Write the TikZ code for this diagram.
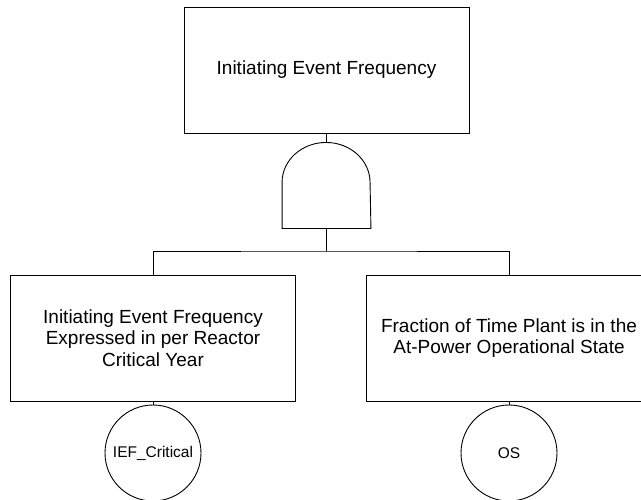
\documentclass[tikz,border=0pt]{standalone}
\usepackage{fontspec}
\setmainfont{Liberation Sans}
\usetikzlibrary{calc}
\tikzset{
    event/.style = {draw, rectangle,
        minimum height=126pt,
        minimum width=285pt, align=center,
        font=\fontsize{19}{21.5}\selectfont},
    gate/.style = {rectangle, inner sep=0pt,
        minimum height=86pt, minimum width=88pt},
    basic/.style = {draw, circle, inner sep=0pt,
        minimum size=96pt, font=\fontsize{15.5}{18}\selectfont}
}

\begin{document}
\begin{tikzpicture}[x=1pt, y=-1pt, line width=0.9pt, node distance=115pt]
        \useasboundingbox (0,0) rectangle (641,499);
        % top event and its gate
        \node [event, name=topevent] at (326.5,70) {Initiating Event Frequency};
        \node [gate, below of=topevent] (andgate) {};
        \draw (andgate.south west) -- ++(0pt,46pt)
            arc [start angle=180, end angle=0, x radius=44pt, y radius=40pt]
            -- (andgate.south east) -- cycle;
        \draw (topevent) -- (andgate.north);
        \coordinate [below of=andgate, node distance=66pt] (bus);
        \draw (andgate.south) -- (bus);
        % inputs
        \node [event, name=leftevent] at (153,338) {Initiating Event Frequency\\Expressed in per Reactor\\Critical Year};
        \node [event, right of=leftevent, node distance=356pt] (rightevent) {Fraction of Time Plant is in the\\At-Power Operational State};
        \draw (leftevent.north) |- (bus) -| (rightevent.north);
        \node [basic, below of=leftevent] (ief) {IEF\_Critical};
        \node [basic, below of=rightevent] (os) {OS};
        \draw (leftevent) -- (ief);
        \draw (rightevent) -- (os);
\end{tikzpicture}
\end{document}
